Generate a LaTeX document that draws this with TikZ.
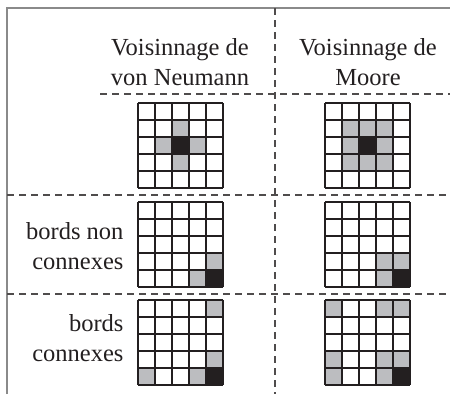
\documentclass[tikz,border=0pt]{standalone}
\usepackage{fontspec}
\setmainfont{Liberation Serif}
\definecolor{CellGray}{HTML}{BCBDC0}
\definecolor{CellBlack}{HTML}{231F20}
\definecolor{RuleGray}{HTML}{8A8A8A}

% one 5x5 grid: #1 top-left corner, #2 gray cells, #3 black cell
\newcommand{\cellgrid}[3]{%
  \begin{scope}[shift={#1}]
    \foreach \c/\r in {#2} {\fill[CellGray] (\c*17,\r*17) rectangle ++(17,17);}
    \foreach \c/\r in {#3} {\fill[CellBlack] (\c*17,\r*17) rectangle ++(17,17);}
    \foreach \i in {0,...,5} {
      \draw[gridline] (\i*17,0) -- (\i*17,85);
      \draw[gridline] (0,\i*17) -- (85,\i*17);
    }
  \end{scope}}

\begin{document}
\begin{tikzpicture}[
    x=1pt, y=-1pt,
    % styles
    frame/.style={RuleGray, line width=1.6pt},
    sep/.style={CellBlack!80, line width=1.1pt, dash pattern=on 7pt off 5pt},
    gridline/.style={CellBlack, line width=1.1pt},
    head/.style={font=\fontsize{24.5}{30}\selectfont, align=center, text=CellBlack},
    rowlabel/.style={font=\fontsize{24.5}{30}\selectfont, align=right, anchor=east, text=CellBlack}
]
    \useasboundingbox (0,0) rectangle (450,394);

    % ==========================================
    % Frame and separators
    % ==========================================
    \draw[frame] (7,394) -- (7,8) -- (450,8);
    \draw[sep] (275,8) -- (275,394);
    \draw[sep] (100,94) -- (450,94);
    \draw[sep] (7,195) -- (450,195);
    \draw[sep] (7,294) -- (450,294);

    % ==========================================
    % Headers and row labels
    % ==========================================
    \node[head] (hdrVN) at (180,62) {Voisinnage de\\von Neumann};
    \node[head] (hdrMoore) at (368,62) {Voisinnage de\\Moore};
    \node[rowlabel] (lblNonConn) at (127,246) {bords non\\connexes};
    \node[rowlabel] (lblConn) at (127,338) {bords\\connexes};

    % ==========================================
    % Neighbourhoods
    % ==========================================
    \cellgrid{(138,103)}{2/1,1/2,3/2,2/3}{2/2}
    \cellgrid{(325,103)}{1/1,2/1,3/1,1/2,3/2,1/3,2/3,3/3}{2/2}

    % non-connected borders
    \cellgrid{(138,202)}{4/3,3/4}{4/4}
    \cellgrid{(325,202)}{3/3,4/3,3/4}{4/4}

    % connected borders
    \cellgrid{(138,300)}{4/0,4/3,0/4,3/4}{4/4}
    \cellgrid{(325,300)}{0/0,3/0,4/0,0/3,3/3,4/3,0/4,3/4}{4/4}

\end{tikzpicture}
\end{document}
